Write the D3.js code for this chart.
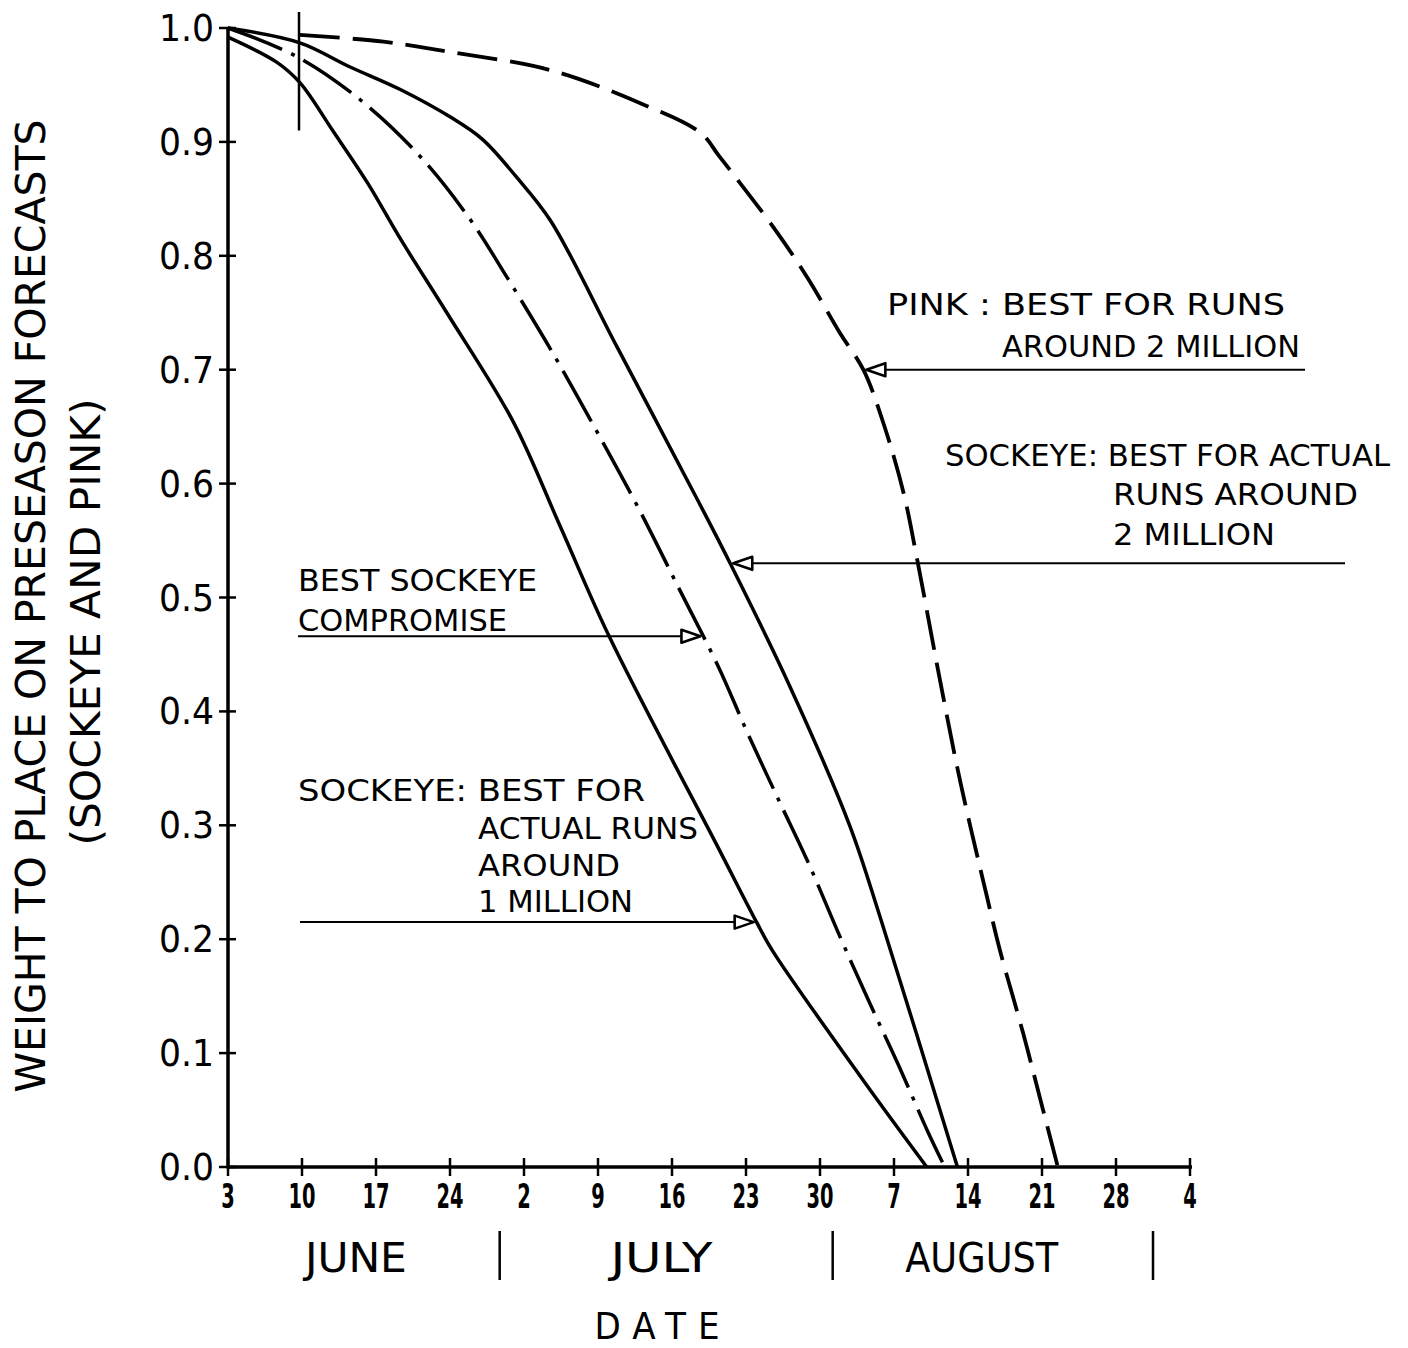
<!DOCTYPE html>
<html>
<head>
<meta charset="utf-8">
<script src="https://cdn.jsdelivr.net/npm/d3@7"></script>
<style>
html,body{margin:0;padding:0;background:#fff;}
svg{display:block;}
</style>
</head>
<body>
<svg id="chart" width="1408" height="1348"></svg>
<script>
// ---------------- DATA ----------------
// x: days since 3 June; y: weight to place on preseason forecasts
const weekTickDays   = [0, 7, 14, 21, 28, 35, 42, 49, 56, 63, 70, 77, 84, 91];
const weekTickLabels = ["3","10","17","24","2","9","16","23","30","7","14","21","28","4"];
const weightTicks    = [0, 0.1, 0.2, 0.3, 0.4, 0.5, 0.6, 0.7, 0.8, 0.9, 1.0];
const weightTickLabels = ["0.0","0.1","0.2","0.3","0.4","0.5","0.6","0.7","0.8","0.9","1.0"];
const monthNames      = ["JUNE", "JULY", "AUGUST"];
const monthCentreDays = [12.1, 41.0, 71.3];
const monthDividerDays = [25.7, 57.2, 87.5];

// Sockeye: best for actual runs around 1 million (solid, leftmost)
const sockeye1MDays    = [0, 4.6, 6.8, 9.9, 13.2, 16.3, 20.7, 27.0, 31.4, 36.1, 46.5, 50.0, 51.5, 60.1, 66.1];
const sockeye1MWeights = [0.992, 0.970, 0.952, 0.910, 0.864, 0.815, 0.750, 0.654, 0.563, 0.465, 0.278, 0.215, 0.190, 0.076, 0.0];

// Best sockeye compromise (dash-dot)
const compromiseDays    = [0, 6.5, 12.5, 18.2, 22.9, 26.4, 30.7, 34.7, 38.8, 42.6, 46.4, 49.1, 52.0, 54.9, 57.9, 60.7, 63.4, 66.2, 67.8];
const compromiseWeights = [1.0, 0.975, 0.937, 0.887, 0.832, 0.781, 0.715, 0.649, 0.579, 0.509, 0.439, 0.382, 0.324, 0.267, 0.202, 0.144, 0.090, 0.031, 0.0];

// Sockeye: best for actual runs around 2 million (solid, right)
const sockeye2MDays    = [0, 6.8, 11.5, 16.3, 21.0, 24.1, 27.3, 30.5, 36.8, 44.4, 47.5, 53.0, 58.8, 61.7, 69.0];
const sockeye2MWeights = [1.0, 0.987, 0.966, 0.946, 0.922, 0.902, 0.869, 0.831, 0.720, 0.586, 0.530, 0.425, 0.300, 0.219, 0.0];

// Pink: best for runs around 2 million (dashed)
const pinkDays    = [6.8, 14.7, 21.0, 30.5, 39.0, 44.7, 46.5, 51.6, 54.8, 57.9, 60.1, 62.0, 63.9, 65.2, 67.4, 69.3, 71.8, 73.0, 75.2, 77.1, 78.5];
const pinkWeights = [0.994, 0.988, 0.979, 0.963, 0.934, 0.908, 0.887, 0.825, 0.781, 0.732, 0.700, 0.653, 0.592, 0.533, 0.425, 0.337, 0.237, 0.191, 0.118, 0.050, 0.0];

// Arrow target weights (where each pointer touches its curve)
const arrowWeights = { pink: 0.70, sockeye2M: 0.530, compromise: 0.466, sockeye1M: 0.215 };

// Annotation text lines
const pinkText       = ["PINK : BEST FOR RUNS", "AROUND 2 MILLION"];
const sockeye2MText  = ["SOCKEYE: BEST FOR ACTUAL", "RUNS AROUND", "2 MILLION"];
const compromiseText = ["BEST SOCKEYE", "COMPROMISE"];
const sockeye1MText  = ["SOCKEYE: BEST FOR", "ACTUAL RUNS", "AROUND", "1 MILLION"];
const yTitleLines    = ["WEIGHT TO PLACE ON PRESEASON FORECASTS", "(SOCKEYE AND PINK)"];
const xTitle = "DATE";

// ---------------- LAYOUT ----------------
const FONT = "'DejaVu Sans Condensed','DejaVu Sans',sans-serif";
const svg = d3.select("#chart");
const x = d3.scaleLinear().domain([0, 91]).range([228, 1190]);
const y = d3.scaleLinear().domain([0, 1]).range([1167, 28]);

const zip = (a, b) => a.map((d, i) => [d, b[i]]);
const line = d3.line().x(d => x(d[0])).y(d => y(d[1])).curve(d3.curveCatmullRom.alpha(0.5));

// Axes (drawn through d3.axis, then styled)
const xAxis = d3.axisBottom(x).tickValues(weekTickDays).tickSize(0).tickFormat("");
svg.append("g").attr("transform", `translate(0,${y(0)})`).call(xAxis)
  .call(g => g.select(".domain").attr("stroke", "#000").attr("stroke-width", 3.5).attr("d", `M${x(0)},0H${x(91)+2}`));
svg.append("g").selectAll("line").data(weekTickDays).join("line")
  .attr("x1", d => x(d)).attr("x2", d => x(d))
  .attr("y1", y(0) - 9).attr("y2", y(0) + 9)
  .attr("stroke", "#000").attr("stroke-width", 2.5);
svg.append("g").selectAll("text").data(weekTickDays).join("text")
  .attr("x", d => x(d)).attr("y", 1208)
  .attr("text-anchor", "middle")
  .attr("font-family", FONT).attr("font-weight", "bold").attr("font-size", 33)
  .attr("textLength", (d, i) => weekTickLabels[i].length * 13.5)
  .attr("lengthAdjust", "spacingAndGlyphs")
  .text((d, i) => weekTickLabels[i]);

const yAxis = d3.axisLeft(y).tickValues(weightTicks).tickSize(0).tickFormat("");
svg.append("g").attr("transform", `translate(${x(0)},0)`).call(yAxis)
  .call(g => g.select(".domain").attr("stroke", "#000").attr("stroke-width", 3.5).attr("d", `M0,${y(0)+1.5}V${y(1)}`));
svg.append("g").selectAll("line").data(weightTicks).join("line")
  .attr("x1", x(0) - 9).attr("x2", x(0) + 8)
  .attr("y1", d => y(d)).attr("y2", d => y(d))
  .attr("stroke", "#000").attr("stroke-width", 2.5);
svg.append("g").selectAll("text").data(weightTicks).join("text")
  .attr("x", 214).attr("y", d => y(d) + 13)
  .attr("text-anchor", "end")
  .attr("font-family", FONT).attr("font-size", 38)
  .attr("textLength", 55).attr("lengthAdjust", "spacingAndGlyphs")
  .text((d, i) => weightTickLabels[i]);

// Month labels and dividers
svg.append("g").selectAll("text").data(monthNames).join("text")
  .attr("x", (d, i) => x(monthCentreDays[i])).attr("y", 1272)
  .attr("text-anchor", "middle")
  .attr("font-family", FONT).attr("font-size", 40)
  .attr("textLength", d => d.length * 25.5)
  .attr("lengthAdjust", "spacingAndGlyphs")
  .text(d => d);
svg.append("g").selectAll("line").data(monthDividerDays).join("line")
  .attr("x1", d => x(d)).attr("x2", d => x(d))
  .attr("y1", 1231).attr("y2", 1280)
  .attr("stroke", "#000").attr("stroke-width", 2.5);

// Axis titles
svg.append("text").attr("x", 657).attr("y", 1339)
  .attr("text-anchor", "middle").attr("font-family", FONT).attr("font-size", 38)
  .attr("textLength", 125).attr("lengthAdjust", "spacing").text(xTitle);
svg.append("text").attr("transform", "translate(45,606) rotate(-90)")
  .attr("text-anchor", "middle").attr("font-family", FONT).attr("font-size", 41)
  .attr("textLength", 973).attr("lengthAdjust", "spacingAndGlyphs").text(yTitleLines[0]);
svg.append("text").attr("transform", "translate(100,622) rotate(-90)")
  .attr("text-anchor", "middle").attr("font-family", FONT).attr("font-size", 41)
  .attr("textLength", 447).attr("lengthAdjust", "spacingAndGlyphs").text(yTitleLines[1]);

// 10 June marker line
svg.append("line").attr("x1", x(7) - 3).attr("x2", x(7) - 3)
  .attr("y1", y(1) - 16).attr("y2", y(0.91))
  .attr("stroke", "#000").attr("stroke-width", 2.5);

// Curves
const curves = {
  sockeye1M:  svg.append("path").datum(zip(sockeye1MDays, sockeye1MWeights)).attr("d", line)
                 .attr("fill", "none").attr("stroke", "#000").attr("stroke-width", 3.5),
  compromise: svg.append("path").datum(zip(compromiseDays, compromiseWeights)).attr("d", line)
                 .attr("fill", "none").attr("stroke", "#000").attr("stroke-width", 3.5)
                 .attr("stroke-dasharray", "58,10,4,10"),
  sockeye2M:  svg.append("path").datum(zip(sockeye2MDays, sockeye2MWeights)).attr("d", line)
                 .attr("fill", "none").attr("stroke", "#000").attr("stroke-width", 3.5),
  pink:       svg.append("path").datum(zip(pinkDays, pinkWeights)).attr("d", line)
                 .attr("fill", "none").attr("stroke", "#000").attr("stroke-width", 3.8)
                 .attr("stroke-dasharray", "40,13")
};

function crossingX(pathSel, weight) {
  const node = pathSel.node();
  const total = node.getTotalLength();
  const ty = y(weight);
  for (let l = 0; l <= total; l += 0.5) {
    const p = node.getPointAtLength(l);
    if (p.y >= ty) return p.x;
  }
  return node.getPointAtLength(total).x;
}

// Arrows: tail x in pixels, direction of the head
const arrows = [
  { key: "pink",       tail: 1305, dir: -1 },
  { key: "sockeye2M",  tail: 1345, dir: -1 },
  { key: "compromise", tail: 298,  dir: 1 },
  { key: "sockeye1M",  tail: 300,  dir: 1 }
];
const ag = svg.append("g");
arrows.forEach(a => {
  const ty = y(arrowWeights[a.key]);
  const tx = crossingX(curves[a.key], arrowWeights[a.key]) - a.dir * 3;
  const bx = tx - a.dir * 19;
  ag.append("line").attr("x1", a.tail).attr("x2", bx).attr("y1", ty).attr("y2", ty)
    .attr("stroke", "#000").attr("stroke-width", 2);
  ag.append("path").attr("d", `M${tx},${ty}L${bx},${ty - 6.5}L${bx},${ty + 6.5}Z`)
    .attr("fill", "#fff").attr("stroke", "#000").attr("stroke-width", 2.6)
    .attr("stroke-linejoin", "round");
});

// Annotation texts
function textBlock(lines, specs) {
  lines.forEach((t, i) => {
    svg.append("text").attr("x", specs[i][0]).attr("y", specs[i][1])
      .attr("font-family", FONT).attr("font-size", 30)
      .attr("textLength", specs[i][2]).attr("lengthAdjust", "spacingAndGlyphs")
      .text(t);
  });
}
textBlock(pinkText,       [[887, 315, 398], [1002, 357, 298]]);
textBlock(sockeye2MText,  [[945, 466, 445], [1113, 505, 245], [1113, 545, 162]]);
textBlock(compromiseText, [[298, 591, 239], [298, 631, 209]]);
textBlock(sockeye1MText,  [[298, 801, 347], [478, 839, 220], [478, 876, 142], [478, 912, 155]]);
</script>
</body>
</html>
